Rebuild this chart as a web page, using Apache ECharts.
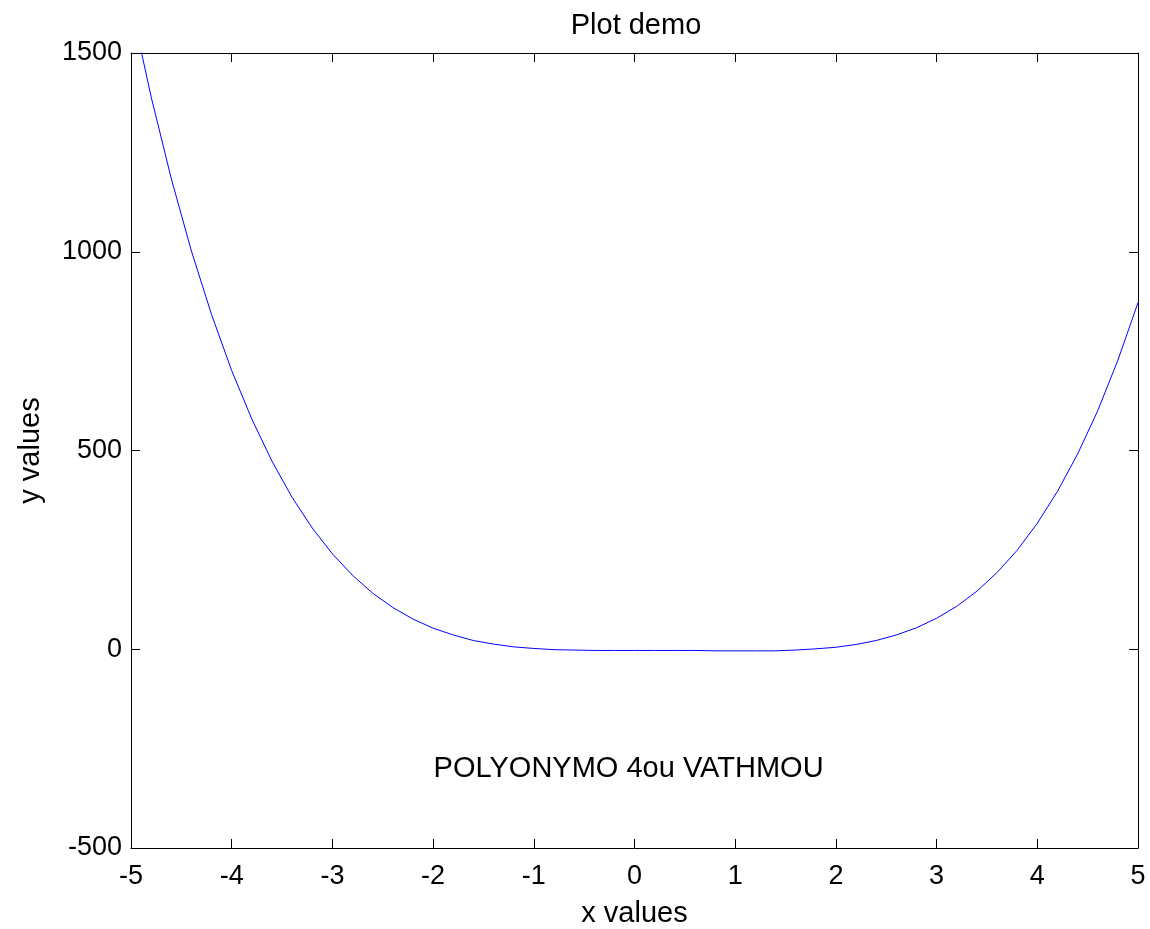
<!DOCTYPE html>
<html>
<head>
<meta charset="UTF-8">
<title>Plot demo</title>
<style>
    html, body { margin: 0; padding: 0; background: #fff; }
    #main { width: 1150px; height: 929px; }
</style>
</head>
<body>
<div id="main"></div>
<script src="https://cdn.jsdelivr.net/npm/echarts@6/dist/echarts.min.js"></script>
<script>
    // x samples (step 0.2) and the values
    var xValues = [-5, -4.8, -4.6, -4.4, -4.2, -4, -3.8, -3.6, -3.4, -3.2,
        -3, -2.8, -2.6, -2.4, -2.2, -2, -1.8, -1.6, -1.4, -1.2,
        -1, -0.8, -0.6, -0.4, -0.2, 0, 0.2, 0.4, 0.6, 0.8,
        1, 1.2, 1.4, 1.6, 1.8, 2, 2.2, 2.4, 2.6, 2.8,
        3, 3.2, 3.4, 3.6, 3.8, 4, 4.2, 4.4, 4.6, 4.8, 5];
    var yValues = [1622, 1390, 1184, 1002, 842, 701, 579, 473, 382, 305,
        240, 186, 141, 105, 76, 53, 36, 22, 13, 6,
        2, -1, -2, -3, -3, -3, -3, -3, -3, -4,
        -4, -4, -4, -2, 1, 5, 12, 22, 36, 54,
        78, 108, 146, 193, 249, 317, 397, 491, 600, 727, 872];
    var xTicks = {min: -5, max: 5, step: 1};
    var yTicks = {min: -500, max: 1500, step: 500};
    var noteText = 'POLYONYMO 4ou VATHMOU';
    var notePos = [-2, -300];

    var font = 'Liberation Sans, Arial, sans-serif';
    var chart = echarts.init(document.getElementById('main'));

    var pts = [];
    for (var i = 0; i < xValues.length; i++) {
        pts.push([xValues[i], yValues[i]]);
    }

    function boxAxis(pos, t, showLabel, name) {
        return {
            type: 'value',
            position: pos,
            min: t.min,
            max: t.max,
            interval: t.step,
            name: name || '',
            nameLocation: 'middle',
            nameGap: (pos === 'left') ? 86 : 51,
            nameTextStyle: {color: '#000', fontSize: 29, fontFamily: font},
            axisLine: {show: true, onZero: false, lineStyle: {color: '#000', width: 1}},
            axisTick: {show: true, inside: true, length: 9, lineStyle: {color: '#000'}},
            axisLabel: {
                show: showLabel, color: '#000', fontSize: 27, fontFamily: font,
                margin: (pos === 'left') ? 9 : 15,
                formatter: function (v) { return String(v); }
            },
            splitLine: {show: false}
        };
    }

    var option = {
        backgroundColor: '#fff',
        animation: false,
        title: {
            text: 'Plot demo',
            left: 631,
            top: 6,
            textAlign: 'center',
            textStyle: {color: '#000', fontSize: 29, fontWeight: 'normal', fontFamily: font}
        },
        grid: {left: 131, right: 12, top: 53, bottom: 81, containLabel: false, outerBoundsMode: 'none'},
        xAxis: [
            boxAxis('bottom', xTicks, true, 'x values'),
            boxAxis('top', xTicks, false)
        ],
        yAxis: [
            boxAxis('left', yTicks, true, 'y values'),
            boxAxis('right', yTicks, false)
        ],
        series: [{
            type: 'line',
            data: pts,
            showSymbol: false,
            clip: true,
            lineStyle: {color: '#0000ff', width: 1},
            itemStyle: {color: '#0000ff'}
        }, {
            // text placed at a data position, like the original annotation
            type: 'scatter',
            data: [notePos],
            symbolSize: 1,
            silent: true,
            itemStyle: {color: '#fff', opacity: 1},
            label: {
                show: true,
                position: 'right',
                distance: 0,
                formatter: noteText,
                color: '#000',
                opacity: 1,
                fontSize: 29,
                fontFamily: font
            }
        }]
    };
    chart.setOption(option);
</script>
</body>
</html>
